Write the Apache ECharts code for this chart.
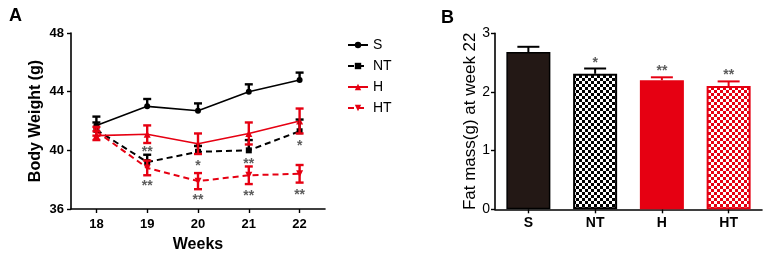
<!DOCTYPE html>
<html><head><meta charset="utf-8">
<script src="https://cdn.jsdelivr.net/npm/echarts@6/dist/echarts.min.js"></script>
<style>html,body{margin:0;padding:0;background:#fff}#c{width:765px;height:254px}</style>
</head><body><div id="c"></div>
<script>
// ---- Data ----
const weeks = ['18','19','20','21','22'];
const sMean  = [41.7, 43.0, 42.7, 44.0, 44.8];
const sErr   = [0.6, 0.5, 0.5, 0.5, 0.5];
const ntMean = [41.4, 39.2, 39.9, 40.0, 41.3];
const ntErr  = [0.5, 0.5, 0.4, 0.7, 0.8];
const hMean  = [41.0, 41.1, 40.45, 41.15, 42.0];
const hErr   = [0.3, 0.6, 0.7, 0.75, 0.85];
const htMean = [41.3, 38.8, 37.9, 38.3, 38.4];
const htErr  = [0.3, 0.5, 0.55, 0.6, 0.6];
// significance marks, panel A: [week index, y, text]
const sigA = [[1,40.09,'**'],[1,37.78,'**'],[2,39.16,'*'],[2,36.84,'**'],[3,39.23,'**'],[3,37.11,'**'],[4,40.48,'*'],[4,37.18,'**']];
const yTicksA = [36, 40, 44, 48];

const groups = ['S','NT','H','HT'];
const fatMean = [2.68, 2.31, 2.20, 2.10];
const fatErr  = [0.09, 0.09, 0.05, 0.08];
const sigB = [[1,2.55,'*'],[2,2.40,'**'],[3,2.33,'**']];
const yTicksB = [0, 1, 2, 3];

// ---- Styles ----
const RED = '#e60012', BLK = '#000';
const FONT = 'Arial, "Liberation Sans", sans-serif';
function checker(fg){
  const c = document.createElement('canvas'); c.width = 6; c.height = 6;
  const g = c.getContext('2d');
  g.fillStyle = '#fff'; g.fillRect(0,0,6,6);
  g.fillStyle = fg; g.fillRect(0,0,3,3); g.fillRect(3,3,3,3);
  return {image: c, repeat: 'repeat'};
}
function errSeries(name, xi, yi, mean, err, color, both, capHalf, w){
  return {
    type: 'custom', name: name + '_err', xAxisIndex: xi, yAxisIndex: yi, z: 5,
    data: mean.map((m,i)=>[i, both ? m - err[i] : m, m + err[i]]),
    renderItem: function(params, api){
      const lo = api.coord([api.value(0), api.value(1)]);
      const hi = api.coord([api.value(0), api.value(2)]);
      const st = {stroke: color, lineWidth: w};
      const ch = [
        {type:'line', shape:{x1:hi[0],y1:hi[1],x2:lo[0],y2:lo[1]}, style:st},
        {type:'line', shape:{x1:hi[0]-capHalf,y1:hi[1],x2:hi[0]+capHalf,y2:hi[1]}, style:st}
      ];
      if (both) ch.push({type:'line', shape:{x1:lo[0]-capHalf,y1:lo[1],x2:lo[0]+capHalf,y2:lo[1]}, style:st});
      return {type:'group', children: ch};
    },
    silent: true
  };
}
function lineSeries(name, data, color, dashed, symbol, size){
  return {
    type:'line', name: name, data: data, xAxisIndex:0, yAxisIndex:0, z: 4,
    symbol: symbol, symbolSize: size, showSymbol: true,
    itemStyle:{color: color},
    lineStyle:{color: color, width: dashed ? 2 : 1.6, type: dashed ? [6,4] : 'solid'}
  };
}
function sigSeries(xi, yi, arr){
  return {
    type:'scatter', xAxisIndex: xi, yAxisIndex: yi, symbolSize: 0, z: 6, silent: true,
    data: arr.map(d=>({value:[d[0], d[1]], label:{formatter: d[2]}})),
    label:{show:true, position:'inside', offset:[0,3], color:'#333', fontSize:14, fontWeight:'bold', fontFamily: FONT}
  };
}
const axisLine = {show:true, lineStyle:{color:BLK, width:1.6}};
const axisTick = {show:true, length:4, lineStyle:{color:BLK, width:1.4}};

const option = {
  animation: false,
  textStyle: {fontFamily: FONT},
  title: [
    {text:'A', left:4, top:2, textStyle:{fontSize:18, fontWeight:'bold', color:BLK, fontFamily:FONT}},
    {text:'B', left:436, top:4, textStyle:{fontSize:18, fontWeight:'bold', color:BLK, fontFamily:FONT}}
  ],
  legend: {
    orient:'vertical', left:342, top:33, itemWidth:20, itemHeight:8, itemGap:7,
    textStyle:{fontSize:14, color:BLK, fontFamily:FONT, lineHeight:12},
    data: ['S','NT','H','HT']
  },
  grid: [
    {left:71, top:33, width:254, height:176, outerBoundsMode:'none', containLabel:false},
    {left:495, top:33.3, width:267, height:176, outerBoundsMode:'none', containLabel:false}
  ],
  xAxis: [
    {type:'category', gridIndex:0, data: weeks, boundaryGap:true,
     name:'Weeks', nameLocation:'middle', nameGap:28,
     nameTextStyle:{fontSize:16, fontWeight:'bold', color:BLK, fontFamily:FONT},
     axisLine: axisLine, axisTick: Object.assign({alignWithLabel:true}, axisTick),
     axisLabel:{fontSize:13, fontWeight:'bold', color:BLK, margin:9, fontFamily:FONT}, splitLine:{show:false}},
    {type:'category', gridIndex:1, data: groups, boundaryGap:true,
     axisLine: axisLine, axisTick: Object.assign({alignWithLabel:true}, axisTick),
     axisLabel:{fontSize:14, fontWeight:'bold', color:BLK, margin:7, fontFamily:FONT}, splitLine:{show:false}}
  ],
  yAxis: [
    {type:'value', gridIndex:0, min: yTicksA[0], max: yTicksA[yTicksA.length-1], interval:4,
     name:'Body Weight (g)', nameLocation:'middle', nameGap:27,
     nameTextStyle:{fontSize:16, fontWeight:'bold', color:BLK, fontFamily:FONT},
     axisLine: axisLine, axisTick: axisTick,
     axisLabel:{fontSize:13, fontWeight:'bold', color:BLK, margin:7, fontFamily:FONT}, splitLine:{show:false}},
    {type:'value', gridIndex:1, min: yTicksB[0], max: yTicksB[yTicksB.length-1], interval:1,
     name:'Fat mass(g) at week 22', nameLocation:'middle', nameGap:9,
     nameTextStyle:{fontSize:17, color:BLK, fontFamily:FONT},
     axisLine: axisLine, axisTick: axisTick,
     axisLabel:{fontSize:14, color:BLK, margin:5, fontFamily:FONT}, splitLine:{show:false}}
  ],
  series: [
    lineSeries('S', sMean, BLK, false, 'circle', 6),
    lineSeries('NT', ntMean, BLK, true, 'rect', 6),
    lineSeries('H', hMean, RED, false, 'triangle', 7),
    lineSeries('HT', htMean, RED, true, 'path://M0,0L10,0L5,9Z', 7),
    errSeries('S', 0, 0, sMean, sErr, BLK, false, 4, 2.4),
    errSeries('NT', 0, 0, ntMean, ntErr, BLK, false, 4, 2.4),
    errSeries('H', 0, 0, hMean, hErr, RED, true, 4, 2.4),
    errSeries('HT', 0, 0, htMean, htErr, RED, true, 4, 2.4),
    sigSeries(0, 0, sigA),
    {type:'bar', xAxisIndex:1, yAxisIndex:1, barWidth: 44, z: 3,
     data: fatMean.map((v,i)=>({value:v, itemStyle: [
       {color:'#231815', borderColor:BLK, borderWidth:1.5},
       {color:checker(BLK), borderColor:BLK, borderWidth:2},
       {color:RED, borderColor:RED, borderWidth:1.5},
       {color:checker(RED), borderColor:RED, borderWidth:2}][i]}))},
    {type:'custom', xAxisIndex:1, yAxisIndex:1, z:5, silent:true,
     data: fatMean.map((m,i)=>[i, m, m + fatErr[i]]),
     renderItem: function(params, api){
       const lo = api.coord([api.value(0), api.value(1)]);
       const hi = api.coord([api.value(0), api.value(2)]);
       const col = [BLK, BLK, RED, RED][params.dataIndex];
       const st = {stroke: col, lineWidth: 2};
       return {type:'group', children:[
         {type:'line', shape:{x1:hi[0],y1:hi[1],x2:lo[0],y2:lo[1]}, style:st},
         {type:'line', shape:{x1:hi[0]-11,y1:hi[1],x2:hi[0]+11,y2:hi[1]}, style:st}
       ]};
     }},
    sigSeries(1, 1, sigB)
  ]
};
const chart = echarts.init(document.getElementById('c'), null, {renderer:'canvas'});
chart.setOption(option);
</script></body></html>
